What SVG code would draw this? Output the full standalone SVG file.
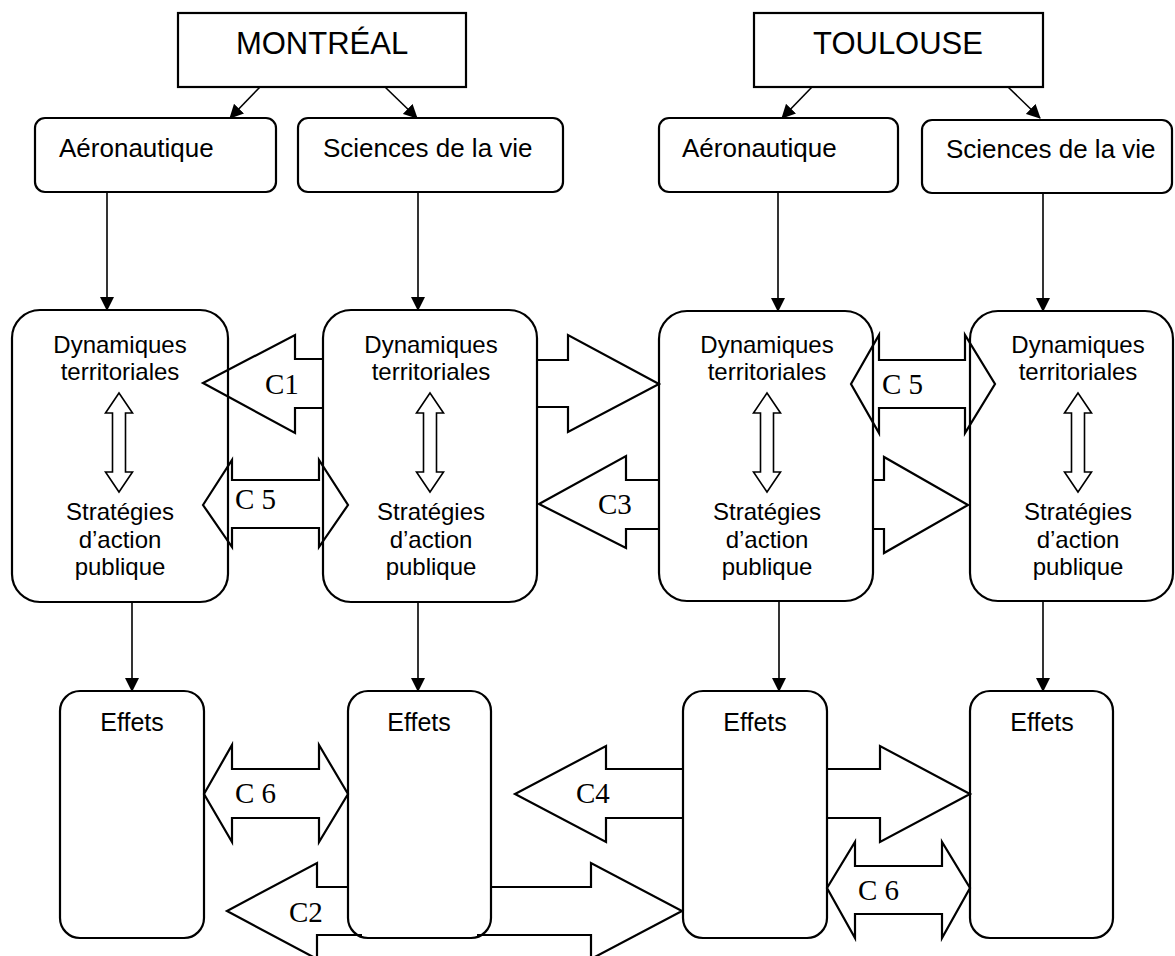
<svg xmlns="http://www.w3.org/2000/svg" xmlns:xlink="http://www.w3.org/1999/xlink" width="1175" height="956" viewBox="0 0 1175 956">
<style>
.box{fill:none;stroke:#000;stroke-width:2.2}
.t{font-family:"Liberation Sans",Arial,sans-serif;fill:#000}
.city{font-size:31px}
.sec{font-size:26px}
.dyn{font-size:24px;text-anchor:middle}
.eff{font-size:25px;text-anchor:middle}
.big{fill:none;stroke:#000;stroke-width:2.2;stroke-linejoin:miter}
.lbl{font-family:"Liberation Serif","Times New Roman",serif;font-size:29px;fill:#000}
.ln{stroke:#000;stroke-width:1.6;fill:none}
.dbl{fill:none;stroke:#000;stroke-width:1.6}
</style>
<defs>
<marker id="ah" markerWidth="14" markerHeight="14" refX="13" refY="7" orient="auto" markerUnits="userSpaceOnUse">
<path d="M0,0 L14,7 L0,14 Z" fill="#000"/>
</marker>
<path id="dblarrow" d="M0,0 L13.5,20 L6.5,20 L6.5,79 L13.5,79 L0,99 L-13.5,79 L-6.5,79 L-6.5,20 L-13.5,20 Z"/>
</defs>
<rect x="0" y="0" width="1175" height="956" fill="#fff"/>

<g id="connectors">
<line class="ln" x1="260" y1="87" x2="230" y2="118" marker-end="url(#ah)"/>
<line class="ln" x1="385" y1="87" x2="417" y2="118" marker-end="url(#ah)"/>
<line class="ln" x1="812" y1="87" x2="782" y2="118" marker-end="url(#ah)"/>
<line class="ln" x1="1008" y1="87" x2="1040" y2="118" marker-end="url(#ah)"/>
<line class="ln" x1="107" y1="192" x2="107" y2="310" marker-end="url(#ah)"/>
<line class="ln" x1="418" y1="192" x2="418" y2="310" marker-end="url(#ah)"/>
<line class="ln" x1="778" y1="192" x2="778" y2="311" marker-end="url(#ah)"/>
<line class="ln" x1="1043" y1="193" x2="1043" y2="311" marker-end="url(#ah)"/>
<line class="ln" x1="132" y1="602" x2="132" y2="691" marker-end="url(#ah)"/>
<line class="ln" x1="418" y1="602" x2="418" y2="691" marker-end="url(#ah)"/>
<line class="ln" x1="779" y1="601" x2="779" y2="691" marker-end="url(#ah)"/>
<line class="ln" x1="1043" y1="601" x2="1043" y2="691" marker-end="url(#ah)"/>

<path class="big" d="M323,359 H295 V335 L203,383 L295,433 V408 H323"/>
<text class="lbl" x="265" y="394">C1</text>
<path class="big" d="M537,360 H568 V335 L659,384 L568,432 V407 H537"/>
<path class="big" d="M203,505 L232,460 V480 H319 V460 L348,505 L319,547 V528 H232 V547 Z"/>
<text class="lbl" x="235" y="509" xml:space="preserve">C 5</text>
<path class="big" d="M659,480 H626 V456 L539,504 L626,548 V529 H659"/>
<text class="lbl" x="598" y="514">C3</text>
<path class="big" d="M851,384 L879,335 V360 H965 V335 L995,384 L965,433 V408 H879 V433 Z"/>
<text class="lbl" x="882" y="394" xml:space="preserve">C 5</text>
<path class="big" d="M873,480 H884 V457 L968,505 L884,553 V529 H873"/>

<path class="big" d="M204,794 L232,745 V769 H319 V745 L348,794 L319,842 V818 H232 V842 Z"/>
<text class="lbl" x="235" y="803" xml:space="preserve">C 6</text>
<path class="big" d="M683,769 H606 V746 L515,794 L606,842 V818 H683"/>
<text class="lbl" x="576" y="803">C4</text>
<path class="big" d="M827,769 H880 V746 L970,794 L880,842 V818 H827"/>
<path class="big" d="M827,888 L855,842 V866 H942 V842 L970,888 L942,938 V914 H855 V938 Z"/>
<text class="lbl" x="858" y="900" xml:space="preserve">C 6</text>
<path class="big" d="M348,887 H317 V863 L227,911 L317,959 V935 H362"/>
<text class="lbl" x="289" y="922">C2</text>
<path class="big" d="M477,935 H591 V959 L682,911 L591,863 V887 H491"/>
</g>

<g id="montreal">
<rect class="box" x="178" y="13" width="288" height="74"/>
<text class="t city" x="322" y="54" text-anchor="middle">MONTRÉAL</text>
</g>
<g id="toulouse">
<rect class="box" x="754" y="13" width="289" height="74"/>
<text class="t city" x="898" y="54" text-anchor="middle">TOULOUSE</text>
</g>

<g id="mtl-aero">
<rect class="box" x="35" y="118" width="241" height="74" rx="10"/>
<text class="t sec" x="59" y="157">Aéronautique</text>
</g>
<g id="mtl-sci">
<rect class="box" x="298" y="118" width="265" height="74" rx="10"/>
<text class="t sec" x="323" y="157">Sciences de la vie</text>
</g>
<g id="tls-aero">
<rect class="box" x="659" y="118" width="239" height="74" rx="10"/>
<text class="t sec" x="682" y="157">Aéronautique</text>
</g>
<g id="tls-sci">
<rect class="box" x="922" y="120" width="250" height="73" rx="10"/>
<text class="t sec" x="946" y="158">Sciences de la vie</text>
</g>

<g id="mtl-aero-dyn">
<rect class="box" x="12" y="310" width="216" height="292" rx="28"/>
<text class="t dyn" x="120" y="353">Dynamiques</text>
<text class="t dyn" x="120" y="380">territoriales</text>
<use xlink:href="#dblarrow" class="dbl" x="119" y="393"/>
<text class="t dyn" x="120" y="520">Stratégies</text>
<text class="t dyn" x="120" y="548">d’action</text>
<text class="t dyn" x="120" y="575">publique</text>
</g>
<g id="mtl-sci-dyn">
<rect class="box" x="323" y="310" width="214" height="292" rx="28"/>
<text class="t dyn" x="431" y="353">Dynamiques</text>
<text class="t dyn" x="431" y="380">territoriales</text>
<use xlink:href="#dblarrow" class="dbl" x="430" y="393"/>
<text class="t dyn" x="431" y="520">Stratégies</text>
<text class="t dyn" x="431" y="548">d’action</text>
<text class="t dyn" x="431" y="575">publique</text>
</g>
<g id="tls-aero-dyn">
<rect class="box" x="659" y="311" width="214" height="290" rx="28"/>
<text class="t dyn" x="767" y="353">Dynamiques</text>
<text class="t dyn" x="767" y="380">territoriales</text>
<use xlink:href="#dblarrow" class="dbl" x="767" y="393"/>
<text class="t dyn" x="767" y="520">Stratégies</text>
<text class="t dyn" x="767" y="548">d’action</text>
<text class="t dyn" x="767" y="575">publique</text>
</g>
<g id="tls-sci-dyn">
<rect class="box" x="970" y="311" width="203" height="290" rx="28"/>
<text class="t dyn" x="1078" y="353">Dynamiques</text>
<text class="t dyn" x="1078" y="380">territoriales</text>
<use xlink:href="#dblarrow" class="dbl" x="1078" y="393"/>
<text class="t dyn" x="1078" y="520">Stratégies</text>
<text class="t dyn" x="1078" y="548">d’action</text>
<text class="t dyn" x="1078" y="575">publique</text>
</g>

<g id="mtl-aero-eff">
<rect class="box" x="60" y="691" width="144" height="247" rx="20"/>
<text class="t eff" x="132" y="731">Effets</text>
</g>
<g id="mtl-sci-eff">
<rect class="box" x="348" y="691" width="143" height="247" rx="20"/>
<text class="t eff" x="419" y="731">Effets</text>
</g>
<g id="tls-aero-eff">
<rect class="box" x="683" y="691" width="144" height="247" rx="20"/>
<text class="t eff" x="755" y="731">Effets</text>
</g>
<g id="tls-sci-eff">
<rect class="box" x="970" y="691" width="143" height="247" rx="20"/>
<text class="t eff" x="1042" y="731">Effets</text>
</g>
</svg>
